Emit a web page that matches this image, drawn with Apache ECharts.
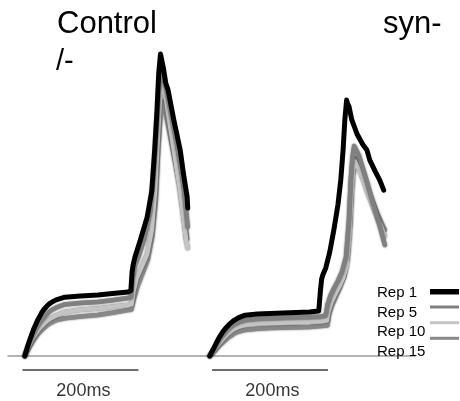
<!DOCTYPE html>
<html>
<head>
<meta charset="utf-8">
<script src="https://cdn.jsdelivr.net/npm/echarts@6/dist/echarts.min.js"></script>
<style>html,body{margin:0;padding:0;background:#fff}#chart{width:460px;height:401px}</style>
</head>
<body>
<div id="chart"></div>
<script>
// time in ms, amplitude in arbitrary units
const repNames = ['Rep 1', 'Rep 5', 'Rep 10', 'Rep 15'];
const panelTitles = ['Control', 'syn-', '/-'];
const scaleBarLabel = '200ms';

const ctrlRep1 = [[29,0],[32,2],[35,3.9],[38,5.6],[41,7.2],[44,8.8],[48,10.6],[51,11.9],[55,13.3],[58,14.4],[62,15.5],[66,16.4],[70,17.2],[76,18],[83,18.7],[98,19.6],[125,20],[155,20.3],[180,20.8],[207,21.3],[212,21.8],[214,28],[216,30.5],[219,33],[228,38.5],[240,46.3],[248,55],[253,68.7],[257,82],[260,94.3],[263,100.7],[265,100.3],[268,96],[272,91],[276,88.7],[286,78.7],[297,68.7],[303,60.3],[309,53],[310,49.3]];
const ctrlRep5 = [[29,0],[32,1.7],[35,3.3],[38,4.8],[41,6.1],[44,7.4],[48,8.9],[52,10.2],[56,11.4],[60,12.4],[65,13.5],[70,14.5],[76,15.4],[83,16.1],[98,17.2],[125,17.7],[155,18],[180,18.6],[207,19.3],[212,19.6],[215,26],[219,30],[225,33],[235,39],[245,48],[251,60],[256,75],[260,88],[263,96],[266,96],[270,92],[276,86],[284,78],[292,70],[299,62],[304,55],[308,47],[310,43]];
const ctrlRep10 = [[29,0],[32,1.5],[35,2.9],[38,4.1],[41,5.3],[45,6.6],[49,7.8],[53,8.9],[57,9.8],[62,10.8],[68,11.8],[75,12.7],[83,13.5],[98,14.7],[125,15.4],[155,15.8],[180,16.4],[207,17],[213,17.2],[217,22],[222,26],[230,29.5],[240,34],[248,42],[254,56],[258,71],[262,85],[265,92],[268,91],[273,85],[280,76],[288,66],[296,56],[302,47],[307,39],[310,36]];
const ctrlRep15 = [[29,0],[32,1.2],[35,2.3],[38,3.3],[41,4.3],[45,5.5],[49,6.6],[53,7.6],[58,8.6],[63,9.5],[69,10.5],[76,11.3],[84,12],[98,12.6],[125,13.2],[155,13.7],[180,14.4],[207,15.3],[213,15.5],[217,19],[223,23],[231,27],[241,32],[249,40],[255,52],[259,68],[263,80],[266,85],[269,84],[274,79],[281,72],[289,64],[297,56],[303,48],[307,42],[309,39]];

const synRep1 = [[348,0],[352,1.5],[356,3],[360,4.6],[365,6.4],[371,8.2],[377,9.6],[383,10.8],[390,11.9],[397,12.7],[409,13.6],[430,14],[452,14.2],[486,14.4],[520,14.7],[536,15],[539,22],[541,25.7],[543,27],[548,29.3],[555,34.7],[562,42],[569,50.3],[574,58.7],[578,68.7],[581,78.7],[584,85.3],[586,84],[588,83.3],[593,78.7],[602,74],[612,70.5],[619,68.7],[624,65.3],[634,61.3],[641,58.7],[648,55.3]];
const synRep5 = [[348,0],[352,1.2],[356,2.5],[360,3.8],[365,5.4],[371,7],[377,8.4],[383,9.5],[390,10.5],[397,11.2],[409,12],[430,12.4],[452,12.6],[486,12.8],[520,13],[540,13.2],[548,13.5],[551,17],[556,20],[562,22.5],[569,25],[576,28],[583,33],[588,45],[591,58],[594,66],[597,70],[600,69.5],[605,67],[613,62],[620,57.5],[628,52],[636,47],[643,42],[650,37]];
const synRep10 = [[348,0],[352,1],[356,2],[360,3.1],[366,4.6],[372,6],[378,7.2],[384,8.2],[390,9],[397,9.7],[409,10.4],[430,10.8],[452,11],[486,11.2],[520,11.4],[540,11.6],[550,11.8],[553,15],[558,18],[564,20.5],[571,23],[578,26],[584,30],[589,40],[592,52],[595,61],[598,65],[601,64.5],[606,62],[614,58],[621,54],[629,50],[637,46],[644,43],[650,40]];
const synRep15 = [[348,0],[352,0.8],[356,1.6],[361,2.7],[367,3.9],[373,5],[379,6],[385,6.8],[391,7.6],[397,8.1],[409,8.7],[430,9.1],[452,9.3],[486,9.5],[520,9.7],[540,10],[551,10.2],[554,14],[559,17],[566,20],[573,23],[580,26.5],[586,33],[590,44],[593,56],[596,63],[599,66],[602,65.5],[607,63],[615,59],[622,55],[630,51],[638,47],[645,44],[650,42]];

const scaleBars = [[[25,-4.7],[225,-4.7]], [[352,-4.7],[552,-4.7]]];
const scaleLabelPos = [[130,-11.7],[456,-11.7]];

const FONT = '"Liberation Sans", Arial, Helvetica, sans-serif';
const repColors = ['#000000', '#808080', '#c4c4c4', '#888888'];
const repWidths = [5, 4.5, 4.5, 4.5];
const repData = [[ctrlRep1, synRep1], [ctrlRep5, synRep5], [ctrlRep10, synRep10], [ctrlRep15, synRep15]];

const series = [];
// draw Rep 15 first, Rep 1 last (on top)
for (let i = repNames.length - 1; i >= 0; i--) {
  repData[i].forEach(function (d) {
    series.push({
      type: 'line', name: repNames[i], data: d, showSymbol: false, symbol: 'none',
      z: 10 - i,
      lineStyle: { color: repColors[i], width: repWidths[i], join: 'round', cap: 'round',
        shadowColor: i === 0 ? 'rgba(0,0,0,0)' : 'rgba(0,0,0,0.6)', shadowBlur: i === 0 ? 0 : 2 },
      silent: true
    });
  });
}
scaleBars.forEach(function (b) {
  series.push({ type: 'line', data: b, symbol: 'none', silent: true,
    lineStyle: { color: '#6e6e6e', width: 2 } });
});
series.push({
  type: 'scatter', data: scaleLabelPos, symbolSize: 0, silent: true,
  label: { show: true, position: 'inside', formatter: scaleBarLabel, color: '#000', fontSize: 18, fontFamily: FONT }
});

const legendTextY = [293, 313, 332, 352];
const legendSwatch = [[289, 5.5], [305.5, 3], [321.2, 3], [336.8, 3]];
const graphic = [
  { type: 'text', left: 57, top: 9, style: { text: panelTitles[0], font: '31px ' + FONT, fill: '#000' } },
  { type: 'text', left: 383, top: 9, style: { text: panelTitles[1], font: '31px ' + FONT, fill: '#000' } },
  { type: 'text', left: 56, top: 47, style: { text: panelTitles[2], font: '29px ' + FONT, fill: '#000' } }
];
repNames.forEach(function (n, i) {
  graphic.push({ type: 'text', x: 377, y: legendTextY[i], z: 100,
    style: { text: n, font: '15px ' + FONT, fill: '#000', textVerticalAlign: 'middle', textAlign: 'left' } });
  graphic.push({ type: 'rect', shape: { x: 430, y: legendSwatch[i][0], width: 29, height: legendSwatch[i][1] },
    style: { fill: repColors[i] }, z: 100 });
});

const chart = echarts.init(document.getElementById('chart'));
chart.setOption({
  animation: false,
  backgroundColor: '#fff',
  grid: { left: 8, right: 45, top: 26, bottom: 0, containLabel: false },
  xAxis: { type: 'value', min: 0, max: 702, axisLine: { show: true, onZero: true, lineStyle: { color: '#9a9a9a', width: 1.5 } },
    axisTick: { show: false }, axisLabel: { show: false }, splitLine: { show: false } },
  yAxis: { type: 'value', min: -15, max: 110, show: false, splitLine: { show: false } },
  graphic: graphic,
  series: series
});
</script>
</body>
</html>
